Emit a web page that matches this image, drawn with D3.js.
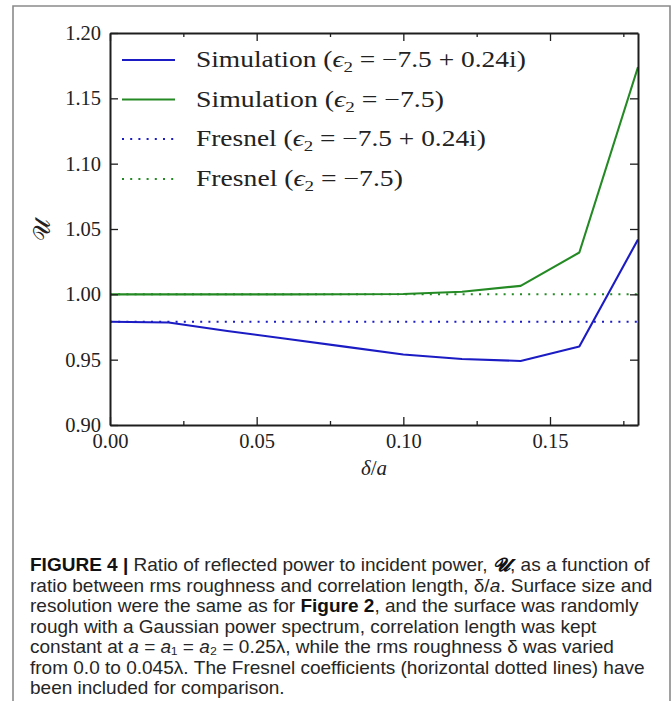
<!DOCTYPE html>
<html>
<head>
<meta charset="utf-8">
<script src="https://cdn.jsdelivr.net/npm/d3@7"></script>
<style>
  html, body { margin: 0; padding: 0; background: #fff; }
  svg { display: block; }
</style>
</head>
<body>
<svg id="fig" width="672" height="701"></svg>
<script>
// Roughness ratio delta/a and the reflected-power ratio U for each run
const roughness = [0, 0.02, 0.04, 0.06, 0.08, 0.10, 0.12, 0.14, 0.16, 0.18];
const simLossy = [0.979, 0.9785, 0.972, 0.966, 0.960, 0.954, 0.9505, 0.949, 0.960, 1.042];
const simLossless = [1.000, 1.000, 1.000, 1.000, 1.0001, 1.0003, 1.002, 1.0065, 1.032, 1.174];
const fresnelLossy = 0.979;
const fresnelLossless = 1.000;

const xTicks = [0.00, 0.05, 0.10, 0.15];
const xMinorTicks = [0.025, 0.075, 0.125, 0.175];
const yTicks = [0.90, 0.95, 1.00, 1.05, 1.10, 1.15, 1.20];

const BLUE = "#1c1cc4";
const GREEN = "#248a24";
const SERIF = "'Liberation Serif', 'DejaVu Serif', serif";
const SANS = "'Liberation Sans', Arial, sans-serif";

const svg = d3.select("#fig");
svg.append("rect").attr("width", 672).attr("height", 701).attr("fill", "#fff");

// outer figure frame (open at the bottom)
svg.append("path")
  .attr("d", "M13,701 L13,6 L670,6 L670,701")
  .attr("fill", "none").attr("stroke", "#8a8a8a").attr("stroke-width", 1.6);

const plot = { left: 110, right: 638, top: 33, bottom: 425 };
const x = d3.scaleLinear().domain([0, 0.18]).range([plot.left, plot.right]);
const y = d3.scaleLinear().domain([0.90, 1.20]).range([plot.bottom, plot.top]);

// series lines
const line = d3.line().x(d => x(d[0])).y(d => y(d[1]));
const lossyPts = roughness.map((r, i) => [r, simLossy[i]]);
const losslessPts = roughness.map((r, i) => [r, simLossless[i]]);
const dom = x.domain();

const series = [
  { pts: [[dom[0], fresnelLossless], [dom[1], fresnelLossless]], color: GREEN, dotted: true },
  { pts: [[dom[0], fresnelLossy], [dom[1], fresnelLossy]], color: BLUE, dotted: true },
  { pts: losslessPts, color: GREEN, dotted: false },
  { pts: lossyPts, color: BLUE, dotted: false }
];
svg.append("g").selectAll("path").data(series).join("path")
  .attr("d", d => line(d.pts))
  .attr("fill", "none")
  .attr("stroke", d => d.color)
  .attr("stroke-width", d => d.dotted ? 2 : 2.1)
  .attr("stroke-dasharray", d => d.dotted ? "2,6.2" : null)
  .attr("stroke-linejoin", "round");

// axes: inward ticks on all four sides
function styleAxis(g) {
  g.selectAll("path.domain").attr("stroke", "#1e1e1e").attr("stroke-width", 2);
  g.selectAll(".tick line").attr("stroke", "#1e1e1e").attr("stroke-width", 1.3);
  g.selectAll("text").attr("font-family", SERIF).attr("font-size", 20.5).attr("fill", "#222");
}
svg.append("g").attr("transform", `translate(0,${plot.bottom})`)
  .call(d3.axisBottom(x).tickValues(xMinorTicks).tickSize(-4).tickSizeOuter(0).tickFormat(""))
  .call(styleAxis).call(g => g.select(".domain").remove());
svg.append("g").attr("transform", `translate(0,${plot.top})`)
  .call(d3.axisTop(x).tickValues(xMinorTicks).tickSize(-4).tickSizeOuter(0).tickFormat(""))
  .call(styleAxis).call(g => g.select(".domain").remove());
svg.append("g").attr("transform", `translate(0,${plot.top})`)
  .call(d3.axisTop(x).tickValues(xTicks).tickSize(-8).tickSizeOuter(0).tickFormat(""))
  .call(styleAxis);
svg.append("g").attr("transform", `translate(${plot.right},0)`)
  .call(d3.axisRight(y).tickValues(yTicks).tickSize(-8).tickSizeOuter(0).tickFormat(""))
  .call(styleAxis);
svg.append("g").attr("transform", `translate(0,${plot.bottom})`)
  .call(d3.axisBottom(x).tickValues(xTicks).tickSize(-8).tickSizeOuter(0).tickPadding(8)
    .tickFormat(d3.format(".2f")))
  .call(styleAxis);
svg.append("g").attr("transform", `translate(${plot.left},0)`)
  .call(d3.axisLeft(y).tickValues(yTicks).tickSize(-8).tickSizeOuter(0).tickPadding(9)
    .tickFormat(d3.format(".2f")))
  .call(styleAxis);

// axis titles
svg.append("text")
  .attr("transform", "translate(50,230) rotate(-90)")
  .attr("text-anchor", "middle")
  .attr("font-family", SERIF).attr("font-size", 24).attr("fill", "#222")
  .text("𝒰");
const xl = svg.append("text")
  .attr("x", (plot.left + plot.right) / 2).attr("y", 475)
  .attr("text-anchor", "middle")
  .attr("font-family", SERIF).attr("font-size", 21).attr("fill", "#222")
  .attr("font-style", "italic");
xl.append("tspan").text("δ");
xl.append("tspan").attr("font-style", "normal").text("/");
xl.append("tspan").text("a");

// legend
const legendRows = [
  { name: "Simulation", eps: "−7.5 + 0.24i", color: BLUE, dotted: false, width: 330 },
  { name: "Simulation", eps: "−7.5", color: GREEN, dotted: false, width: 248 },
  { name: "Fresnel", eps: "−7.5 + 0.24i", color: BLUE, dotted: true, width: 290 },
  { name: "Fresnel", eps: "−7.5", color: GREEN, dotted: true, width: 207 }
];
const legendY = [60, 99.5, 139, 179];
legendRows.forEach((row, i) => {
  const cy = legendY[i];
  svg.append("line")
    .attr("x1", 122).attr("x2", 175).attr("y1", cy).attr("y2", cy)
    .attr("stroke", row.color).attr("stroke-width", row.dotted ? 2 : 2.1)
    .attr("stroke-dasharray", row.dotted ? "2,6.2" : null);
  const g = svg.append("g").attr("transform", `translate(196,${cy + 7})`);
  const t = g.append("text")
    .attr("font-family", SERIF).attr("font-size", 22.5).attr("fill", "#222");
  t.append("tspan").text(row.name + " (");
  t.append("tspan").attr("font-style", "italic").text("ϵ");
  t.append("tspan").attr("font-size", 15.5).attr("dy", 5).text("2");
  t.append("tspan").attr("dy", -5).text(" = " + row.eps + ")");
  const w = t.node().getBBox().width;
  t.attr("transform", `scale(${row.width / w},1)`);
});

// caption, one text per printed line
const captionLines = [
  [["FIGURE 4 |", "b"], [" Ratio of reflected power to incident power, ", ""], ["𝓤", "bi"], [", as a function of", ""]],
  [["ratio between rms roughness and correlation length, δ/", ""], ["a", "i"], [". Surface size and", ""]],
  [["resolution were the same as for ", ""], ["Figure 2", "b"], [", and the surface was randomly", ""]],
  [["rough with a Gaussian power spectrum, correlation length was kept", ""]],
  [["constant at ", ""], ["a", "i"], [" = ", ""], ["a", "i"], ["₁ = ", ""], ["a", "i"], ["₂ = 0.25λ, while the rms roughness δ was varied", ""]],
  [["from 0.0 to 0.045λ. The Fresnel coefficients (horizontal dotted lines) have", ""]],
  [["been included for comparison.", ""]]
];
const cap = svg.append("g");
const capTexts = captionLines.map(parts => {
  const t = cap.append("text")
    .attr("font-family", SANS).attr("font-size", 18.5).attr("fill", "#262626");
  parts.forEach(([s, f]) => {
    const ts = t.append("tspan").text(s);
    if (f.includes("b")) ts.attr("font-weight", "bold").attr("fill", "#111");
    if (f.includes("i")) ts.attr("font-style", "italic");
  });
  return t;
});
const k = 620 / capTexts[0].node().getBBox().width;
capTexts.forEach((t, i) => {
  t.attr("transform", `translate(30,${571 + i * 20.5}) scale(${k},1)`);
});
</script>
</body>
</html>
